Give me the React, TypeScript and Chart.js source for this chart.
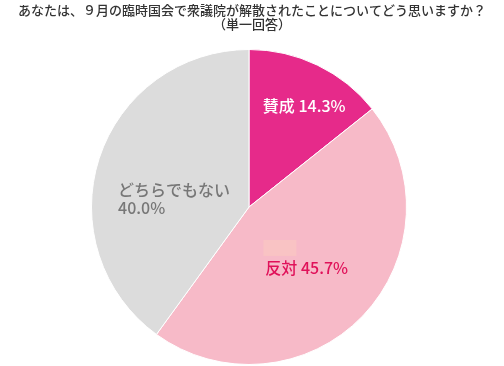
import React, { useEffect, useRef } from "react";
import { Chart, registerables } from "chart.js";

Chart.register(...registerables);

const titleLines = ["あなたは、９月の臨時国会で衆議院が解散されたことについてどう思いますか？", "（単一回答）"];
const categories = ["賛成", "反対", "どちらでもない"];
const values = [14.3, 45.7, 40.0];
const sliceColors = ["#E62A8A", "#F7BAC8", "#DCDCDC"];
const labelColors = ["#FFFFFF", "#E0125A", "#777777"];
// label placement style: fraction of radius along slice mid-angle, plus pixel nudge
const labelStyle = [
  { f: 0.72, dx: 6, dy: 1, multiline: false },
  { f: 0.56, dx: -6, dy: 0, multiline: false },
  { f: 0.5, dx: 0, dy: 16, multiline: true },
];

const FONT = '"Noto Sans CJK JP", "Noto Sans", sans-serif';

const titlePlugin = {
  id: "customTitle",
  afterDraw(chart: any) {
    const ctx = chart.ctx;
    ctx.save();
    ctx.fillStyle = "#333333";
    ctx.font = `500 13px ${FONT}`;
    ctx.textAlign = "center";
    ctx.textBaseline = "middle";
    titleLines.forEach((t, i) => ctx.fillText(t, 252, 10 + i * 14));
    ctx.restore();
  },
};

const labelPlugin = {
  id: "sliceLabels",
  afterDatasetsDraw(chart: any) {
    const ctx = chart.ctx;
    const meta = chart.getDatasetMeta(0);
    ctx.save();
    ctx.font = `500 16px ${FONT}`;
    ctx.textBaseline = "middle";
    meta.data.forEach((arc: any, i: number) => {
      const p = arc.getProps(["x", "y", "startAngle", "endAngle", "outerRadius"], true);
      const mid = (p.startAngle + p.endAngle) / 2;
      const s = labelStyle[i];
      const cx = p.x + Math.cos(mid) * p.outerRadius * s.f + s.dx;
      const cy = p.y + Math.sin(mid) * p.outerRadius * s.f + s.dy;
      const pct = values[i].toFixed(1) + "%";
      const lines = s.multiline ? [categories[i], pct] : [categories[i] + " " + pct];
      const w = Math.max(...lines.map((l) => ctx.measureText(l).width));
      const lh = 18;
      const left = cx - w / 2;
      const top = cy - (lines.length * lh) / 2;
      if (i === 1) {
        ctx.fillStyle = "#F9C3C4";
        ctx.fillRect(left - 2, top - 19, 33, 16);
      }
      ctx.fillStyle = labelColors[i];
      ctx.textAlign = "left";
      lines.forEach((l, j) => ctx.fillText(l, left, top + lh / 2 + j * lh));
    });
    ctx.restore();
  },
};

export default function App() {
  const ref = useRef<HTMLCanvasElement>(null);
  useEffect(() => {
    document.body.style.margin = "0";
    const chart = new Chart(ref.current!, {
      type: "pie",
      data: {
        labels: categories,
        datasets: [
          {
            data: values,
            backgroundColor: sliceColors,
            borderColor: "#FFFFFF",
            borderWidth: 1,
          },
        ],
      },
      options: {
        animation: false,
        responsive: false,
        layout: { padding: { top: 49, bottom: 1, left: 0, right: 6 } },
        plugins: {
          legend: { display: false },
          title: { display: false },
          tooltip: { enabled: false },
        },
      },
      plugins: [titlePlugin, labelPlugin],
    });
    return () => chart.destroy();
  }, []);
  return (
    <div style={{ width: 504, height: 366 }}>
      <canvas ref={ref} width={504} height={366} />
    </div>
  );
}
